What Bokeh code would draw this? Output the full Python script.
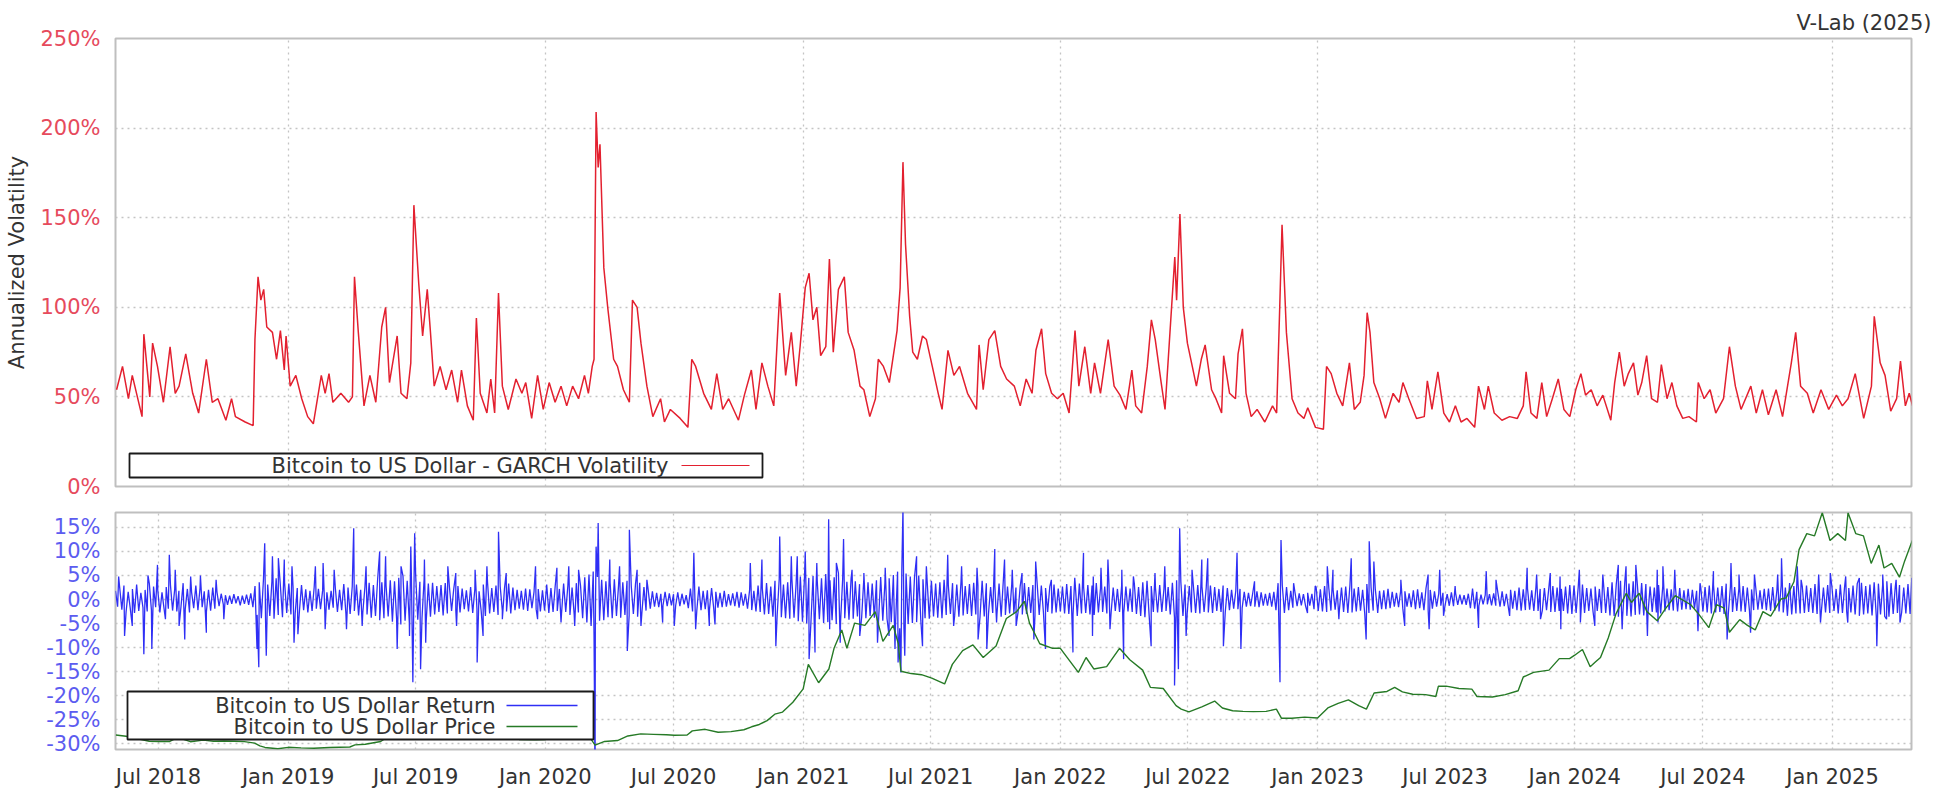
import numpy as np
import pandas as pd
from bokeh.plotting import figure
from bokeh.layouts import column
from bokeh.models import (Range1d, FixedTicker, PrintfTickFormatter, DatetimeTickFormatter,
                          BoxAnnotation, Label, Title)
from bokeh.embed import file_html
from bokeh.resources import INLINE

FONT = "DejaVu Sans"

# ---------------- data ----------------
# GARCH volatility (%), times as decimal years
vol_t = [
    2018.333, 2018.356, 2018.379, 2018.394, 2018.432, 2018.439, 2018.462, 2018.473, 2018.492, 2018.515,
    2018.541, 2018.561, 2018.576, 2018.602, 2018.629, 2018.652, 2018.682, 2018.705, 2018.727, 2018.758,
    2018.780, 2018.795, 2018.833, 2018.864, 2018.871, 2018.883, 2018.894, 2018.905, 2018.917, 2018.939,
    2018.955, 2018.970, 2018.985, 2018.992, 2019.008, 2019.030, 2019.053, 2019.076, 2019.098, 2019.129,
    2019.144, 2019.159, 2019.174, 2019.205, 2019.235, 2019.250, 2019.258, 2019.273, 2019.295, 2019.318,
    2019.341, 2019.364, 2019.379, 2019.394, 2019.424, 2019.439, 2019.462, 2019.477, 2019.489, 2019.508,
    2019.523, 2019.541, 2019.553, 2019.568, 2019.591, 2019.614, 2019.636, 2019.659, 2019.674, 2019.697,
    2019.720, 2019.732, 2019.747, 2019.773, 2019.788, 2019.803, 2019.818, 2019.833, 2019.856, 2019.886,
    2019.909, 2019.924, 2019.947, 2019.970, 2019.992, 2020.015, 2020.038, 2020.061, 2020.083, 2020.106,
    2020.129, 2020.152, 2020.167, 2020.182, 2020.189, 2020.197, 2020.205, 2020.212, 2020.227, 2020.242,
    2020.265, 2020.280, 2020.303, 2020.326, 2020.338, 2020.356, 2020.371, 2020.394, 2020.417, 2020.447,
    2020.462, 2020.485, 2020.523, 2020.553, 2020.568, 2020.583, 2020.614, 2020.644,
    2020.665, 2020.688, 2020.711, 2020.749, 2020.772, 2020.799, 2020.817, 2020.840, 2020.863, 2020.886,
    2020.897, 2020.909, 2020.932, 2020.954, 2020.973, 2020.988, 2021.008, 2021.023, 2021.038, 2021.053,
    2021.068, 2021.088, 2021.102, 2021.117, 2021.137, 2021.160, 2021.175, 2021.198, 2021.221, 2021.236,
    2021.259, 2021.281, 2021.292, 2021.312, 2021.335, 2021.365, 2021.377, 2021.388, 2021.398, 2021.414,
    2021.426, 2021.444, 2021.464, 2021.479, 2021.502, 2021.525, 2021.540, 2021.563, 2021.586, 2021.608,
    2021.639, 2021.674, 2021.684, 2021.700, 2021.722, 2021.745, 2021.768, 2021.791, 2021.821, 2021.844,
    2021.867, 2021.890, 2021.905, 2021.927, 2021.943, 2021.966, 2021.989, 2022.011, 2022.034, 2022.057,
    2022.072, 2022.095, 2022.118, 2022.133, 2022.156, 2022.186, 2022.209, 2022.232, 2022.255, 2022.278,
    2022.293, 2022.316, 2022.338, 2022.354, 2022.369, 2022.392, 2022.407, 2022.445, 2022.452, 2022.465,
    2022.478, 2022.494, 2022.513, 2022.529, 2022.548, 2022.563, 2022.588, 2022.605, 2022.627, 2022.635,
    2022.658, 2022.681, 2022.691, 2022.708, 2022.722, 2022.742, 2022.765, 2022.795, 2022.825, 2022.841,
    2022.853, 2022.862, 2022.879, 2022.901, 2022.924, 2022.947, 2022.962, 2022.992,
    2023.023, 2023.035, 2023.053, 2023.075, 2023.098, 2023.124, 2023.143, 2023.166, 2023.181, 2023.193,
    2023.204, 2023.219, 2023.242, 2023.264, 2023.294, 2023.317, 2023.332, 2023.355, 2023.385, 2023.415,
    2023.427, 2023.445, 2023.468, 2023.491, 2023.513, 2023.536, 2023.558, 2023.581, 2023.611, 2023.626,
    2023.649, 2023.664, 2023.687, 2023.717, 2023.747, 2023.777, 2023.800, 2023.811, 2023.830, 2023.853,
    2023.872, 2023.891, 2023.913, 2023.936, 2023.958, 2023.981, 2024.004, 2024.024, 2024.042, 2024.064,
    2024.087, 2024.109, 2024.140, 2024.155, 2024.173, 2024.192, 2024.208, 2024.228, 2024.245, 2024.260,
    2024.279, 2024.298, 2024.321, 2024.336, 2024.358, 2024.377, 2024.396, 2024.419, 2024.443, 2024.472,
    2024.479, 2024.502, 2024.525, 2024.547, 2024.577, 2024.600, 2024.623, 2024.645, 2024.683, 2024.704,
    2024.728, 2024.751, 2024.781, 2024.806, 2024.840, 2024.857, 2024.876, 2024.902, 2024.925, 2024.955,
    2024.985, 2025.015, 2025.038, 2025.060, 2025.088, 2025.121, 2025.151, 2025.162, 2025.185, 2025.204,
    2025.226, 2025.249, 2025.264, 2025.283, 2025.298, 2025.311,
]
vol_v = [
    54, 67, 49, 62, 39, 85, 50, 80, 67, 47,
    78, 52, 56, 74, 52, 41, 71, 47, 49, 37,
    49, 39, 36, 34, 82, 117, 104, 110, 89, 86,
    71, 87, 65, 84, 56, 62, 49, 39, 35, 62,
    52, 63, 47, 52, 47, 50, 117, 86, 45, 62,
    47, 89, 100, 58, 84, 52, 49, 69, 157, 113,
    84, 110, 87, 56, 67, 54, 65, 47, 65, 45,
    37, 94, 52, 41, 60, 41, 108, 56, 43, 60,
    52, 58, 38, 62, 43, 58, 47, 56, 45, 56,
    49, 62, 52, 67, 71, 209, 178, 191, 122, 100,
    71, 67, 54, 47, 104, 100, 80, 56, 39, 49,
    36, 43, 38, 33, 71, 67, 52, 43,
    63, 43, 49, 37, 51, 65, 43, 69, 56, 45,
    75, 108, 62, 86, 56, 78, 111, 119, 93, 100,
    73, 78, 127, 75, 110, 117, 86, 76, 56, 54,
    39, 49, 71, 67, 58, 87, 111, 181, 135, 95,
    75, 71, 84, 82, 67, 52, 43, 76, 62, 67,
    52, 43, 79, 54, 82, 87, 67, 60, 56, 45,
    60, 52, 76, 88, 63, 52, 49, 52, 41, 87,
    56, 78, 52, 69, 52, 82, 56, 51, 43, 65,
    45, 41, 67, 93, 82, 58, 43, 128, 104, 152,
    100, 80, 67, 56, 71, 79, 54, 49, 41, 73,
    52, 49, 74, 88, 52, 39, 43, 36, 45, 41,
    100, 146, 86, 49, 41, 38, 44, 33,
    32, 67, 63, 52, 45, 69, 43, 47, 62, 97,
    86, 58, 49, 38, 52, 47, 58, 49, 38, 39,
    59, 43, 64, 41, 36, 45, 36, 38, 33, 56,
    43, 56, 41, 37, 39, 38, 45, 64, 41, 38,
    58, 39, 49, 60, 43, 39, 54, 63, 51, 54,
    45, 51, 37, 58, 75, 56, 63, 69, 51, 58,
    73, 49, 47, 68, 49, 58, 45, 38, 39, 36,
    58, 49, 54, 41, 49, 78, 56, 43, 56, 41,
    54, 40, 54, 39, 69, 86, 56, 52, 41, 54,
    43, 51, 45, 49, 63, 38, 56, 95, 69, 62,
    42, 49, 70, 45, 52, 45,
]

# daily-return spikes (%), times as decimal years
ret_spike_t = [
    2018.341, 2018.364, 2018.394, 2018.439, 2018.455, 2018.470, 2018.492, 2018.523, 2018.538, 2018.561,
    2018.576, 2018.598, 2018.621, 2018.659, 2018.682, 2018.720, 2018.750, 2018.879, 2018.886, 2018.909,
    2018.915, 2018.939, 2018.962, 2018.985, 2019.015, 2019.023, 2019.038, 2019.106, 2019.136, 2019.144,
    2019.179, 2019.227, 2019.255, 2019.288, 2019.303, 2019.356, 2019.379, 2019.424, 2019.439, 2019.472,
    2019.477, 2019.485, 2019.492, 2019.515, 2019.530, 2019.535, 2019.621, 2019.652, 2019.655, 2019.727,
    2019.735, 2019.758, 2019.773, 2019.818, 2019.833, 2019.848, 2019.962, 2019.970, 2020.045, 2020.061,
    2020.091, 2020.114, 2020.129, 2020.189, 2020.193, 2020.197, 2020.205, 2020.250, 2020.288, 2020.318,
    2020.326, 2020.356, 2020.371, 2020.394, 2020.455, 2020.500, 2020.576, 2020.583, 2020.636,
    2020.658, 2020.795, 2020.840, 2020.894, 2020.909, 2020.954, 2020.977, 2021.008, 2021.023, 2021.046,
    2021.053, 2021.099, 2021.103, 2021.129, 2021.144, 2021.157, 2021.190, 2021.220, 2021.236, 2021.289,
    2021.319, 2021.334, 2021.357, 2021.369, 2021.380, 2021.388, 2021.395, 2021.441, 2021.464, 2021.479,
    2021.562, 2021.585, 2021.616, 2021.676, 2021.680, 2021.714, 2021.745, 2021.752, 2021.783, 2021.813,
    2021.828, 2021.851, 2021.897, 2021.904, 2021.942, 2021.965, 2022.049, 2022.056, 2022.090, 2022.125,
    2022.128, 2022.158, 2022.185, 2022.193, 2022.239, 2022.246, 2022.284, 2022.353, 2022.368, 2022.406,
    2022.444, 2022.459, 2022.464, 2022.489, 2022.512, 2022.550, 2022.573, 2022.634, 2022.687, 2022.702,
    2022.755, 2022.854, 2022.858, 2022.907, 2022.961, 2022.991,
    2023.038, 2023.060, 2023.083, 2023.131, 2023.189, 2023.201, 2023.219, 2023.234, 2023.324, 2023.339,
    2023.430, 2023.434, 2023.475, 2023.490, 2023.535, 2023.626, 2023.656, 2023.694, 2023.747, 2023.815,
    2023.852, 2023.867, 2023.905, 2023.943, 2023.946, 2024.018, 2024.022, 2024.078, 2024.109, 2024.169,
    2024.184, 2024.199, 2024.237, 2024.282, 2024.320, 2024.323, 2024.342, 2024.388, 2024.478, 2024.486,
    2024.538, 2024.591, 2024.606, 2024.637, 2024.682, 2024.697, 2024.787, 2024.802, 2024.825, 2024.863,
    2024.878, 2024.946, 2024.953, 2024.991, 2025.051, 2025.059, 2025.104, 2025.172, 2025.195, 2025.210,
    2025.247, 2025.262, 2025.308,
]
ret_spike_v = [
    4.8, -7.6, -5.5, -11.4, 5.0, -10.3, 7.2, -4.1, 9.3, 6.2,
    -5.5, -8.3, 4.8, 5.0, -6.9, 4.1, -4.1, -10.3, -14.1, 11.7,
    -11.7, 9.0, 8.6, 8.3, 6.9, -9.0, -7.2, 6.9, 7.6, -6.2,
    6.2, -6.2, 14.8, -5.5, 6.9, 10.0, 9.0, -10.3, 6.9, -7.6,
    11.0, -17.2, 13.8, -14.5, 8.3, -9.0, 6.9, 5.5, -5.5, 6.2,
    -13.1, -7.6, 6.9, 14.1, -4.1, 5.5, 6.9, -4.1, 6.6, -4.8,
    6.9, -5.5, 6.2, -7.6, -39.0, 11.0, 15.9, 8.3, 6.9, -10.7,
    14.5, 6.2, -5.5, 4.1, -4.8, -5.5, 9.7, -6.2, -5.5,
    -5.2, 7.6, 8.3, -9.7, 13.1, 9.0, 9.0, 10.0, -12.4, -11.0,
    7.6, 16.7, -6.2, 7.6, -9.0, 12.6, 6.2, -7.6, 5.5, -9.0,
    6.6, -7.6, -10.3, -13.1, -15.2, 19.0, -11.7, 9.0, -9.7, 6.9,
    9.3, -5.5, 6.9, 6.6, -8.3, -10.3, 10.5, -4.8, 8.3, 6.2,
    -5.5, 5.5, -8.3, 7.9, -10.3, 4.1, -11.0, 4.5, 9.7, -7.6,
    4.8, 6.6, 8.3, -6.2, 6.2, -12.4, 4.8, -9.7, 5.5, 6.9,
    -17.9, -14.5, 14.8, -7.6, 6.2, 8.3, 8.6, -9.7, 9.7, -10.3,
    3.8, -17.2, 12.4, 3.4, -2.8, 2.8,
    6.9, 6.2, -4.1, 8.6, -8.3, 12.1, 7.9, -2.8, 4.1, -5.5,
    5.2, -6.2, 6.2, -3.4, 2.8, -5.9, 5.9, 4.1, -3.4, 6.6,
    5.2, -4.1, 5.5, 4.8, -6.2, 6.2, -4.8, -5.5, 5.2, 7.2,
    -6.2, 6.9, 7.2, -7.6, 6.2, -4.8, 6.9, 6.2, -6.6, 3.4,
    5.9, -8.3, 7.6, 5.2, -6.9, 5.2, 5.2, 8.6, -3.4, 6.9,
    4.1, 5.2, -4.8, 5.5, 4.8, -4.8, 4.5, -9.7, 5.2, -4.1,
    4.1, -4.8, 4.5,
]

# background daily-return band (%): up-moves every 6 days from 2018-05-01,
# down-moves every 6 days from 2018-05-04
ret_up_start = "2018-05-01"
ret_up = [
    1.8, 2.4, 2.9, 1.6, 2.2, 3.1, 1.4, 2.0, 3.3, 2.7, 1.9, 1.5, 2.6, 3.0, 2.1, 1.8, 3.4, 2.2, 1.5, 2.9, 2.4, 1.7, 2.0, 2.5, 1.6,
    1.2, 0.9, 0.8, 1.1, 0.7, 0.8, 1.0, 1.3, 2.8, 3.6, 4.2, 3.1, 3.8, 4.4, 2.9, 3.5, 3.3, 2.6, 2.4, 3.0, 2.1, 1.8, 2.6, 2.2, 1.9,
    1.5, 1.8, 2.4, 2.0, 3.2, 2.5, 2.7, 3.1, 2.0, 2.6, 3.5, 3.0, 4.1, 3.6, 2.9, 4.0, 3.8, 4.5, 4.9, 3.9, 4.4, 5.1, 3.7, 4.2, 3.3,
    3.5, 2.8, 3.0, 3.4, 2.5, 2.1, 2.8, 2.3, 1.9, 2.6, 2.2, 1.7, 3.1, 3.6, 2.4, 2.9, 2.7, 2.2, 3.3, 2.5, 2.0, 1.8, 2.3, 2.1, 1.6,
    2.2, 1.9, 3.1, 2.4, 2.7, 2.2, 3.3, 2.8, 2.5, 3.4, 2.9, 4.6, 5.2, 5.8, 4.7, 4.1, 3.8, 3.5, 4.2, 3.0, 3.6, 3.9, 2.8, 3.2, 3.5,
    2.6, 2.0, 1.7, 1.4, 1.2, 1.6, 1.3, 1.1, 1.5, 1.2, 0.9, 2.3, 2.1, 2.7, 1.8, 1.9, 2.4, 1.6, 1.4, 1.8, 1.1, 1.3, 1.6, 1.5, 1.2,
    2.0, 1.8, 2.9, 2.3, 3.4, 2.7, 3.9, 4.3, 3.1, 3.6, 4.2, 3.3, 4.8, 5.2, 4.5, 4.9, 3.8, 4.4, 5.3, 4.0, 4.6, 5.5, 4.1, 3.7, 4.4,
    3.8, 3.2, 4.1, 3.6, 3.3, 4.0, 4.7, 3.5, 4.4, 5.1, 5.8, 6.2, 5.4, 4.8, 4.6, 5.0, 4.2, 3.7, 3.9, 3.3, 3.6, 4.1, 2.9, 3.4, 3.1,
    3.7, 2.8, 3.2, 3.5, 2.9, 3.9, 3.4, 2.6, 3.0, 3.3, 3.8, 2.7, 3.1, 2.5, 2.8, 3.4, 2.6, 3.0, 3.5, 2.9, 2.4, 2.7, 3.1, 2.3, 2.7,
    3.2, 2.8, 3.5, 3.3, 2.6, 3.0, 2.9, 3.4, 2.4, 2.7, 3.1, 2.5, 2.2, 2.9, 2.7, 2.3, 3.3, 2.6, 3.6, 3.9, 2.8, 2.4, 3.0, 2.2, 2.6,
    3.5, 4.0, 3.7, 3.1, 2.8, 2.5, 3.0, 2.7, 2.4, 2.9, 2.6, 2.2, 2.9, 2.4, 2.0, 1.8, 2.2, 1.6, 1.4, 1.3, 1.7, 1.5, 1.2, 1.4, 1.6,
    3.4, 2.9, 2.6, 1.8, 1.5, 1.3, 1.1, 1.4, 1.2, 2.6, 2.1, 2.8, 2.4, 2.2, 1.9, 2.5, 2.7, 3.0, 2.3, 2.6, 2.0, 3.2, 2.5, 2.1, 1.8,
    1.9, 2.2, 1.6, 1.4, 1.8, 1.7, 1.3, 1.9, 2.1, 1.5, 2.4, 2.0, 1.7, 1.2, 1.4, 1.1, 1.5, 1.3, 1.0, 0.9, 1.2, 2.3, 1.6, 1.0, 0.9,
    1.1, 1.3, 1.4, 1.7, 1.2, 2.0, 1.8, 2.5, 2.1, 2.3, 1.9, 2.6, 2.2, 2.4, 2.0, 2.8, 2.5, 2.2, 2.7, 3.0, 2.9, 2.6, 3.1, 2.4, 2.3,
    2.7, 2.2, 3.1, 2.6, 3.6, 3.2, 3.9, 3.5, 3.3, 3.8, 2.9, 3.4, 3.2, 2.7, 2.5, 3.0, 2.8, 2.3, 2.1, 2.5, 2.4, 1.9, 2.2, 2.0, 1.8,
    2.4, 2.6, 2.9, 3.0, 2.5, 2.8, 3.3, 2.7, 2.6, 2.3, 2.8, 2.5, 2.1, 2.4, 1.9, 2.2, 2.3, 2.6, 2.0, 2.9, 2.5, 3.4, 2.8, 3.1, 2.7,
    2.9, 2.4, 3.2, 2.8, 2.5, 3.0, 2.7, 2.2, 3.1, 2.6, 2.4, 2.9, 3.3, 3.5, 2.8, 3.1, 3.6, 3.3, 2.9, 3.8, 3.4, 2.7, 3.0, 2.5, 3.2,
]
ret_down_start = "2018-05-04"
ret_down = [
    -1.5, -2.1, -2.6, -1.9, -2.8, -2.4, -1.7, -2.5, -2.2, -1.6, -2.7, -2.0, -1.9, -2.3, -2.5, -1.4, -2.0, -2.7, -1.8, -2.2, -1.6, -2.6, -2.3, -1.9, -1.4,
    -1.0, -1.1, -0.9, -0.8, -1.2, -0.9, -1.1, -1.6, -3.2, -3.9, -4.6, -3.4, -4.0, -3.2, -3.7, -2.8, -3.1, -2.9, -2.5, -2.2, -2.7, -2.4, -1.9, -2.0, -2.3,
    -2.1, -1.7, -2.6, -2.2, -2.9, -3.0, -2.4, -3.3, -2.7, -3.1, -3.8, -3.4, -4.3, -3.9, -3.5, -4.6, -4.1, -5.2, -4.4, -4.8, -5.0, -4.2, -3.9, -4.5, -3.6,
    -3.1, -2.6, -3.3, -2.9, -2.4, -2.3, -2.7, -2.0, -2.5, -2.8, -2.0, -2.4, -3.4, -2.9, -2.6, -3.2, -2.3, -2.5, -2.9, -2.2, -1.9, -2.1, -2.4, -1.8, -2.0,
    -2.5, -2.3, -2.8, -2.6, -2.4, -3.0, -2.6, -3.2, -3.1, -2.7, -3.9, -4.8, -5.5, -5.0, -4.4, -4.3, -3.7, -3.9, -3.4, -3.8, -3.2, -3.3, -3.0, -3.6, -2.9,
    -2.3, -1.9, -1.5, -1.6, -1.3, -1.4, -1.2, -1.3, -1.4, -1.0, -1.8, -2.5, -2.4, -2.2, -2.0, -2.1, -1.8, -1.7, -1.6, -1.5, -1.2, -1.4, -1.7, -1.3, -1.9,
    -2.2, -2.5, -2.6, -3.1, -3.0, -3.6, -3.5, -3.7, -3.9, -4.0, -3.8, -4.5, -4.6, -5.0, -4.8, -4.2, -4.1, -4.9, -4.7, -4.3, -5.1, -4.8, -3.9, -4.2, -4.0,
    -3.5, -3.7, -3.9, -3.4, -3.8, -4.3, -4.4, -4.0, -4.7, -5.4, -6.0, -5.9, -5.1, -4.9, -4.7, -4.4, -3.9, -4.0, -3.5, -3.8, -3.9, -3.2, -3.0, -3.3, -3.6,
    -3.3, -3.0, -3.4, -3.1, -3.6, -3.5, -3.0, -2.8, -3.1, -3.6, -3.2, -2.9, -2.8, -2.6, -3.1, -3.0, -2.8, -3.3, -3.2, -2.7, -2.6, -2.9, -2.7, -2.5, -2.9,
    -3.0, -3.2, -3.4, -2.9, -2.8, -3.1, -3.2, -2.7, -2.6, -2.9, -2.8, -2.4, -2.6, -2.8, -2.5, -2.6, -3.0, -3.4, -3.7, -3.3, -2.6, -2.7, -2.6, -2.4, -3.1,
    -3.8, -3.9, -3.4, -2.9, -2.7, -2.8, -2.9, -2.6, -2.7, -2.8, -2.4, -2.6, -2.7, -2.2, -1.9, -2.0, -1.8, -1.5, -1.4, -1.5, -1.6, -1.3, -1.3, -1.5, -2.2,
    -3.2, -2.8, -2.2, -1.7, -1.4, -1.2, -1.3, -1.3, -2.0, -2.4, -2.5, -2.6, -2.3, -2.1, -2.2, -2.6, -2.8, -2.7, -2.5, -2.3, -2.9, -2.8, -2.3, -2.0, -2.0,
    -2.0, -1.8, -1.5, -1.6, -1.8, -1.5, -1.6, -2.0, -1.8, -2.2, -2.2, -1.9, -1.5, -1.3, -1.2, -1.3, -1.4, -1.1, -1.0, -1.1, -1.8, -1.9, -1.3, -1.0, -1.0,
    -1.2, -1.3, -1.5, -1.4, -1.8, -1.9, -2.2, -2.3, -2.2, -2.1, -2.4, -2.4, -2.3, -2.2, -2.6, -2.6, -2.4, -2.4, -2.9, -3.0, -2.8, -2.9, -2.8, -2.4, -2.5,
    -2.4, -2.8, -2.8, -3.3, -3.4, -3.6, -3.7, -3.4, -3.5, -3.2, -3.1, -3.3, -2.9, -2.6, -2.7, -2.9, -2.5, -2.2, -2.3, -2.5, -2.1, -2.0, -2.1, -1.9, -2.2,
    -2.5, -2.7, -2.9, -2.7, -2.6, -3.0, -3.0, -2.6, -2.4, -2.5, -2.6, -2.3, -2.2, -2.1, -2.0, -2.2, -2.4, -2.3, -2.5, -2.7, -3.1, -3.1, -2.9, -2.9, -2.8,
    -2.6, -2.8, -3.0, -2.6, -2.7, -2.8, -2.4, -2.9, -2.8, -2.5, -2.7, -3.1, -3.4, -3.1, -2.9, -3.3, -3.4, -3.1, -3.5, -3.6, -3.0, -2.8, -2.7, -2.9, -3.0,
]

# Bitcoin price (USD), times as decimal years
price_t = [
    2018.33, 2018.37, 2018.42, 2018.46, 2018.50, 2018.54, 2018.57, 2018.62, 2018.67, 2018.71,
    2018.75, 2018.79, 2018.83, 2018.87, 2018.89, 2018.91, 2018.96, 2019.00, 2019.05, 2019.10,
    2019.16, 2019.24, 2019.26, 2019.30, 2019.36, 2019.38, 2019.42, 2019.47, 2019.49, 2019.52,
    2019.54, 2019.56, 2019.60, 2019.64, 2019.70, 2019.73, 2019.80, 2019.82, 2019.87, 2019.90,
    2019.96, 2020.00, 2020.05, 2020.10, 2020.12, 2020.17, 2020.193, 2020.23, 2020.28, 2020.32,
    2020.37, 2020.42, 2020.47, 2020.50, 2020.55, 2020.57, 2020.62, 2020.67, 2020.72, 2020.77,
    2020.80, 2020.83, 2020.86, 2020.89, 2020.92, 2020.96, 2021.00, 2021.02, 2021.06, 2021.10,
    2021.12, 2021.15, 2021.17, 2021.20, 2021.24, 2021.28, 2021.31, 2021.35, 2021.37, 2021.38,
    2021.42, 2021.46, 2021.50, 2021.55, 2021.58, 2021.62, 2021.66, 2021.70, 2021.75, 2021.79,
    2021.83, 2021.86, 2021.88, 2021.92, 2021.97, 2022.00, 2022.04, 2022.07, 2022.10, 2022.13,
    2022.18, 2022.23, 2022.27, 2022.32, 2022.35, 2022.40, 2022.45, 2022.47, 2022.50, 2022.55,
    2022.60, 2022.63, 2022.67, 2022.71, 2022.75, 2022.80, 2022.84, 2022.86, 2022.90, 2022.95,
    2023.00, 2023.04, 2023.08, 2023.12, 2023.16, 2023.19, 2023.22, 2023.27, 2023.30, 2023.33,
    2023.37, 2023.42, 2023.46, 2023.47, 2023.50, 2023.55, 2023.60, 2023.62, 2023.68, 2023.73,
    2023.78, 2023.80, 2023.84, 2023.90, 2023.94, 2023.98, 2024.00, 2024.03, 2024.06, 2024.08,
    2024.10, 2024.13, 2024.16, 2024.20, 2024.22, 2024.25, 2024.28, 2024.32, 2024.35, 2024.39,
    2024.45, 2024.48, 2024.52, 2024.55, 2024.58, 2024.60, 2024.64, 2024.67, 2024.70, 2024.73,
    2024.76, 2024.80, 2024.82, 2024.85, 2024.87, 2024.90, 2024.93, 2024.96, 2024.99, 2025.02,
    2025.05, 2025.06, 2025.09, 2025.12, 2025.15, 2025.18, 2025.20, 2025.23, 2025.26, 2025.28,
    2025.31,
]
price_v = [
    9200, 8700, 7500, 6500, 6400, 6400, 8200, 6300, 7000, 6500,
    6600, 6500, 6350, 5700, 4500, 3800, 3250, 3850, 3600, 3450,
    3800, 4000, 4900, 5200, 6400, 7900, 8000, 9300, 12900, 10800,
    11300, 9500, 11500, 10200, 10200, 8300, 8300, 9500, 8500, 7200,
    7100, 7200, 8700, 9500, 10300, 8600, 4800, 6400, 6800, 8800,
    9700, 9500, 9300, 9100, 9200, 11000, 11700, 10400, 10700, 11500,
    12800, 13800, 15500, 18300, 19200, 23500, 29300, 40000, 32000, 38000,
    47000, 55000, 47000, 58000, 57000, 63000, 50000, 57000, 49000, 37000,
    36000, 35500, 34000, 31500, 40000, 46000, 48500, 43000, 48000, 60000,
    63000, 67500, 58000, 49000, 47000, 47000, 41000, 36500, 43000, 38000,
    39000, 47000, 42000, 37500, 30000, 29500, 22000, 20500, 19300, 21500,
    24000, 21000, 19800, 19500, 19400, 19500, 20500, 16500, 16500, 17000,
    16600, 21000, 23000, 24500, 22000, 20500, 27500, 28200, 30000, 28000,
    27000, 26800, 26000, 30500, 30500, 29500, 29200, 26000, 25800, 26800,
    28500, 34500, 36500, 37500, 42500, 42500, 44000, 46500, 39000, 41000,
    43000, 51500, 62000, 71000, 67000, 71000, 63000, 59000, 64000, 70000,
    66000, 62000, 56000, 66000, 64500, 54000, 59500, 57000, 55000, 63000,
    61000, 68500, 69000, 76000, 90000, 97000, 96000, 106100, 94000, 97000,
    94000, 106100, 97000, 96000, 84000, 92000, 82000, 84000, 78000, 85000,
    94000,
]

vol_ticks = [0, 50, 100, 150, 200, 250]
ret_ticks = [-30, -25, -20, -15, -10, -5, 0, 5, 10, 15]
x_tick_dates = ["2018-07-01", "2019-01-01", "2019-07-01", "2020-01-01", "2020-07-01",
                "2021-01-01", "2021-07-01", "2022-01-01", "2022-07-01", "2023-01-01",
                "2023-07-01", "2024-01-01", "2024-07-01", "2025-01-01"]
year_grid_dates = ["2019-01-01", "2020-01-01", "2021-01-01", "2022-01-01",
                   "2023-01-01", "2024-01-01", "2025-01-01"]

# ---------------- helpers ----------------
def to_ts(t):
    y = int(np.floor(t))
    a = pd.Timestamp(year=y, month=1, day=1)
    b = pd.Timestamp(year=y + 1, month=1, day=1)
    return a + (b - a) * (t - y)

def ms(s):
    return pd.Timestamp(s).value / 1e6

vol_x = [to_ts(t) for t in vol_t]
price_x = [to_ts(t) for t in price_t]
up_x = list(pd.date_range(ret_up_start, periods=len(ret_up), freq="6D"))
down_x = list(pd.date_range(ret_down_start, periods=len(ret_down), freq="6D"))
ret_df = pd.DataFrame({"x": up_x + down_x + [to_ts(t) for t in ret_spike_t],
                       "v": list(ret_up) + list(ret_down) + list(ret_spike_v)}).sort_values("x")

RED = "#e3202f"
BLUE = "#2f2ff5"
GREEN = "#267a26"
GRID = "#c4c4c4"
TXT = "#333333"
FS = "21px"

xr = Range1d(ms("2018-05-01"), ms("2025-04-23"))

def style(p, ylabel_color):
    p.outline_line_color = "#bfbfbf"
    p.outline_line_width = 2
    p.background_fill_color = "white"
    p.border_fill_color = "white"
    for ax in p.xaxis + p.yaxis:
        ax.axis_line_color = None
        ax.major_tick_line_color = None
        ax.minor_tick_line_color = None
        ax.major_tick_out = 0
        ax.major_tick_in = 0
        ax.minor_tick_out = 0
        ax.minor_tick_in = 0
        ax.major_label_text_font = FONT
        ax.major_label_text_font_size = FS
        ax.axis_label_text_font = FONT
        ax.axis_label_text_font_size = FS
        ax.axis_label_text_font_style = "normal"
        ax.axis_label_text_color = TXT
    p.yaxis.major_label_text_color = ylabel_color
    p.yaxis.major_label_standoff = 15
    for g in p.xgrid + p.ygrid:
        g.grid_line_color = GRID
        g.grid_line_dash = "2 4"
        g.grid_line_width = 1.3

def box(p, l, r, b, t, **kw):
    p.add_layout(BoxAnnotation(left=l, right=r, bottom=b, top=t,
                               left_units="screen", right_units="screen",
                               bottom_units="screen", top_units="screen", **kw))

# ---------------- top: volatility ----------------
p1 = figure(frame_width=1796, frame_height=448, x_axis_type="datetime", x_range=xr,
            y_range=Range1d(0, 250), output_backend="svg", toolbar_location=None,
            min_border_left=115, min_border_right=37, min_border_top=38, min_border_bottom=12,
            title=None)
p1.line(vol_x, vol_v, line_color=RED, line_width=1.5)
style(p1, "#e64a5c")
p1.xaxis.visible = False
p1.xgrid.ticker = FixedTicker(ticks=[ms(d) for d in year_grid_dates])
p1.yaxis.ticker = FixedTicker(ticks=vol_ticks)
p1.yaxis.formatter = PrintfTickFormatter(format="%d%%")
p1.yaxis.axis_label = "Annualized Volatility"
p1.yaxis.axis_label_standoff = 8
p1.add_layout(Title(text="V-Lab (2025)", align="right", offset=-20, text_font=FONT,
                    text_font_size=FS, text_font_style="normal", text_color=TXT,
                    standoff=8), "above")

box(p1, 14, 647, 9, 33, fill_color="white", fill_alpha=1.0,
    line_color="#1a1a1a", line_alpha=1.0, line_width=1.8)
p1.add_layout(Label(x=553, y=21, x_units="screen", y_units="screen",
                    text="Bitcoin to US Dollar - GARCH Volatility", text_align="right",
                    text_baseline="middle", text_font=FONT, text_font_size=FS, text_color=TXT))
box(p1, 566, 634, 20.4, 21.6, fill_color=RED, fill_alpha=1.0, line_alpha=0)

# ---------------- bottom: returns and price ----------------
p2 = figure(frame_width=1796, frame_height=237, x_axis_type="datetime", x_range=xr,
            y_range=Range1d(-31.2, 18.1), output_backend="svg", toolbar_location=None,
            min_border_left=115, min_border_right=37, min_border_top=14, min_border_bottom=42)
p2.extra_y_ranges = {"price": Range1d(2900, 106200)}
p2.line(ret_df["x"], ret_df["v"], line_color=BLUE, line_width=1.3)
p2.line(price_x, price_v, line_color=GREEN, line_width=1.4, y_range_name="price")
style(p2, "#5c5cf0")
p2.xaxis.ticker = FixedTicker(ticks=[ms(d) for d in x_tick_dates])
p2.xaxis.formatter = DatetimeTickFormatter(days="%b %Y", months="%b %Y", years="%b %Y")
p2.xaxis.major_label_text_color = TXT
p2.xaxis.major_label_standoff = 15
p2.yaxis.ticker = FixedTicker(ticks=ret_ticks)
p2.yaxis.formatter = PrintfTickFormatter(format="%d%%")

box(p2, 12, 478, 10, 58, fill_color="white", fill_alpha=1.0,
    line_color="#1a1a1a", line_alpha=1.0, line_width=1.8)
for yy, txt, col in [(44, "Bitcoin to US Dollar Return", BLUE), (23, "Bitcoin to US Dollar Price", GREEN)]:
    p2.add_layout(Label(x=380, y=yy, x_units="screen", y_units="screen", text=txt,
                        text_align="right", text_baseline="middle", text_font=FONT,
                        text_font_size=FS, text_color=TXT))
    box(p2, 391, 462, yy - 0.7, yy + 0.7, fill_color=col, fill_alpha=1.0, line_alpha=0)

layout = column(p1, p2, spacing=0)
open("out.html", "w").write(file_html(layout, INLINE))
